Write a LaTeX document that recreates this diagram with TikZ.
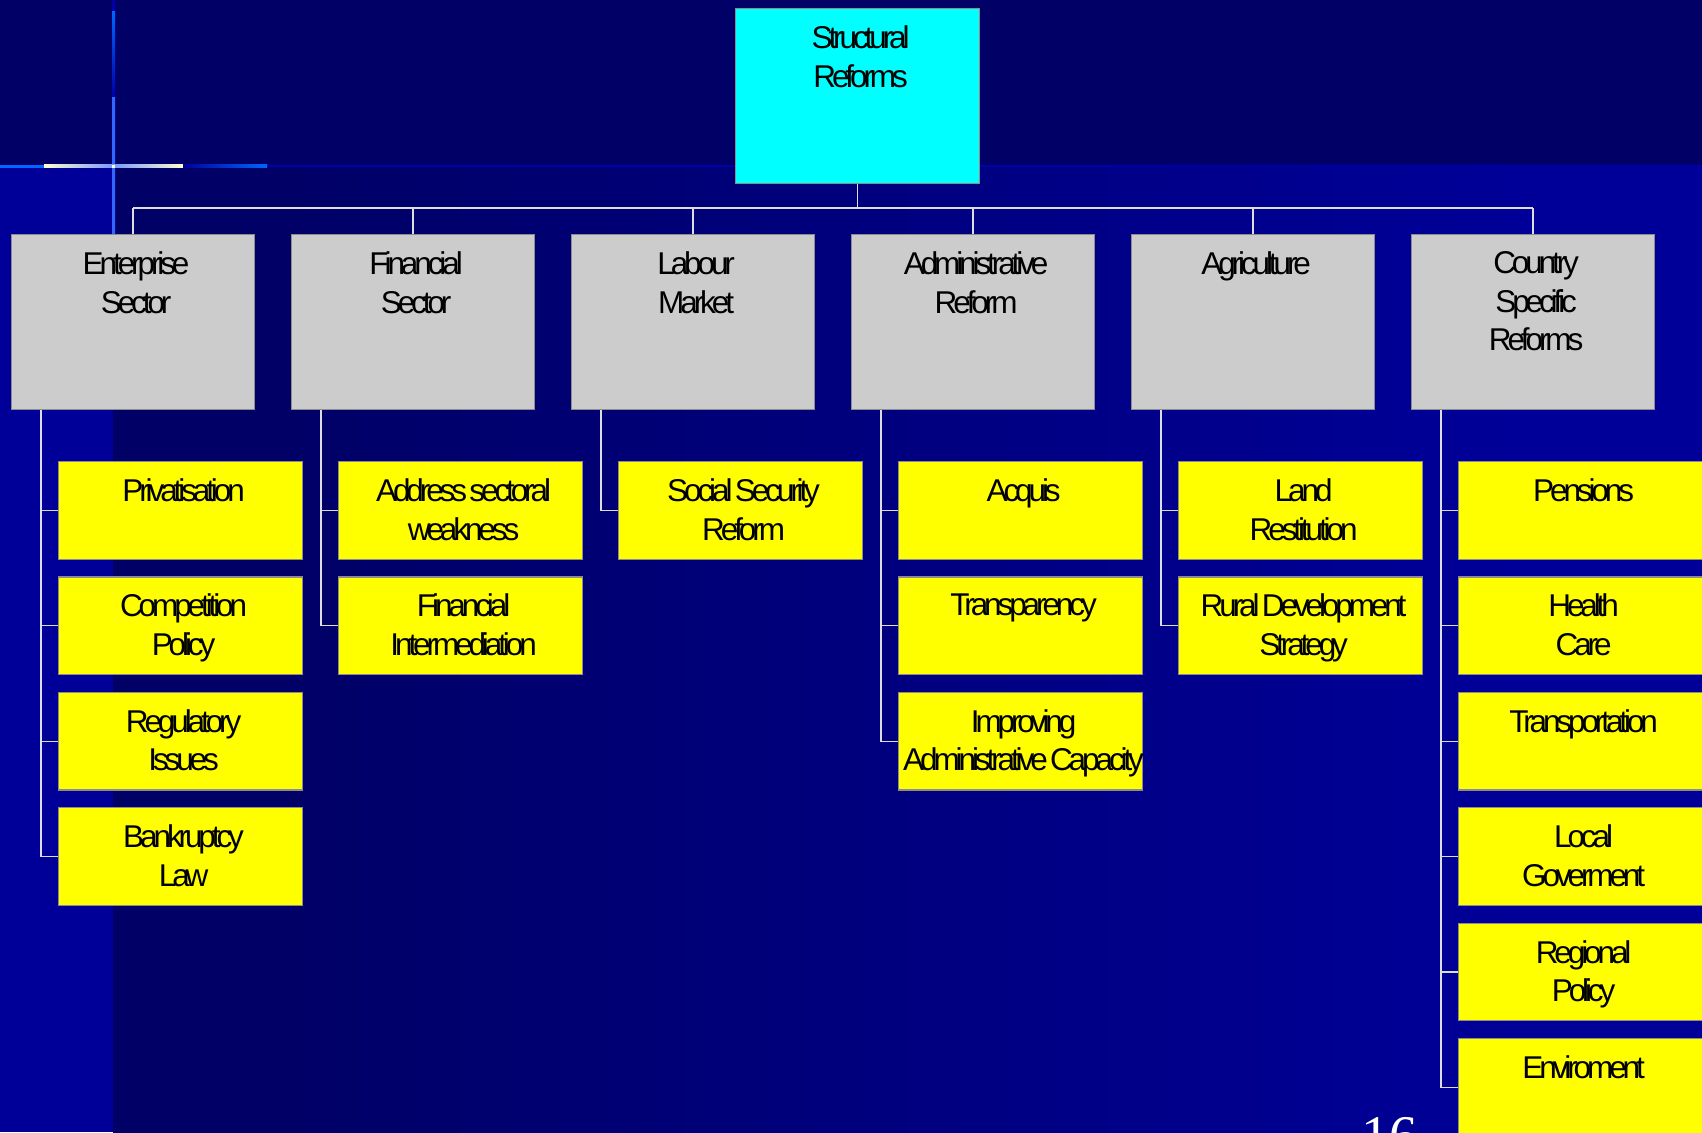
\documentclass[tikz,border=0pt]{standalone}
\usepackage{fontspec}
\setmainfont{Liberation Sans}
\newfontfamily\boxfont[LetterSpace=-13, WordSpace=0.5]{Liberation Sans}
\newfontfamily\pagefont{Liberation Serif}

\definecolor{bgdark}{HTML}{000066}
\definecolor{bgbright}{HTML}{000099}
\definecolor{rulehi}{HTML}{0066FF}
\definecolor{rulemid}{HTML}{3366FF}
\definecolor{rulepale}{HTML}{7799FF}
\definecolor{rulecream}{HTML}{FFFFCC}
\definecolor{ruledim}{HTML}{0000AA}
\definecolor{topcyan}{HTML}{00FFFF}
\definecolor{catgray}{HTML}{CCCCCC}
\definecolor{itemyellow}{HTML}{FFFF00}
\definecolor{edgegray}{HTML}{8C8C8C}
\definecolor{wire}{HTML}{DDDDDD}

\pgfdeclarehorizontalshading{bgsweep}{100bp}{color(0bp)=(bgdark); color(30bp)=(bgdark); color(70bp)=(bgbright); color(100bp)=(bgbright)}

\tikzset{
  cell/.style={draw=edgegray, line width=1.2pt, inner sep=0pt, anchor=north west},
  rootcell/.style={cell, fill=topcyan, minimum width=244pt, minimum height=175pt},
  catcell/.style={cell, fill=catgray, minimum width=243pt, minimum height=175pt},
  itemcell/.style={cell, fill=itemyellow, minimum width=244pt, minimum height=97.5pt},
  celltext/.style={anchor=north, align=center, inner sep=0pt, text=black, xshift=3pt,
    font=\boxfont\fontsize{31.5}{38.5}\selectfont},
  link/.style={draw=wire, line width=1.3pt},
}

\begin{document}
\begin{tikzpicture}[x=1pt, y=-1pt]
\useasboundingbox (0,0) rectangle (1702,1132);
\clip (0,0) rectangle (1702,1132);

% backdrop
\fill[bgdark] (0,0) rectangle (1702,1132);
\shade[shading=bgsweep] (113,166) rectangle (1702,1132);
\fill[bgbright] (0,166) rectangle (113,1132);

% cross-hair ornament
\fill[ruledim] (112,0) rectangle (115,12);
\shade[top color=rulehi, bottom color=ruledim] (112,12) rectangle (115,96);
\shade[top color=rulemid, middle color=rulecream, bottom color=rulemid] (112,97) rectangle (115,236);
\fill[ruledim] (267,165) rectangle (1702,167);
\fill[rulehi] (0,164.5) rectangle (44,167.5);
\shade[left color=rulecream, right color=rulepale] (44,164.5) rectangle (113,167.5);
\shade[left color=rulepale, right color=rulecream] (113,164.5) rectangle (183,167.5);
\shade[left color=bgbright, right color=rulehi] (183,164.5) rectangle (267,167.5);
\fill[rulecream] (112,164.5) rectangle (115,167.5);

% top of the hierarchy
\node[rootcell] (root) at (735,8) {};
\node[celltext] (root-t) at ([yshift=-17.5pt]root.north) {Structural\\Reforms};

% reform areas
\node[catcell] (ent) at (11,234) {};
\node[catcell] (fin) at (291,234) {};
\node[catcell] (lab) at (571,234) {};
\node[catcell] (adm) at (851,234) {};
\node[catcell] (agr) at (1131,234) {};
\node[catcell] (csr) at (1411,234) {};
\node[celltext] (ent-t) at ([yshift=-17.5pt]ent.north) {Enterprise\\Sector};
\node[celltext] (fin-t) at ([yshift=-17.5pt]fin.north) {Financial\\Sector};
\node[celltext] (lab-t) at ([yshift=-17.5pt]lab.north) {Labour\\Market};
\node[celltext] (adm-t) at ([yshift=-17.5pt]adm.north) {Administrative\\Reform};
\node[celltext] (agr-t) at ([yshift=-17.5pt]agr.north) {Agriculture};
\node[celltext] (csr-t) at ([yshift=-17.5pt]csr.north) {Country\\Specific\\Reforms};

% measures: enterprise sector
\node[itemcell] (ent1) at (58,461) {};
\node[itemcell] (ent2) at (58,576.4) {};
\node[itemcell] (ent3) at (58,691.8) {};
\node[itemcell] (ent4) at (58,807.2) {};
\node[celltext] (ent1-t) at ([yshift=-17.5pt]ent1.north) {Privatisation};
\node[celltext] (ent2-t) at ([yshift=-17.5pt]ent2.north) {Competition\\Policy};
\node[celltext] (ent3-t) at ([yshift=-17.5pt]ent3.north) {Regulatory\\Issues};
\node[celltext] (ent4-t) at ([yshift=-17.5pt]ent4.north) {Bankruptcy\\Law};

% measures: financial sector
\node[itemcell] (fin1) at (338,461) {};
\node[itemcell] (fin2) at (338,576.4) {};
\node[celltext] (fin1-t) at ([yshift=-17.5pt]fin1.north) {Address sectoral\\weakness};
\node[celltext] (fin2-t) at ([yshift=-17.5pt]fin2.north) {Financial\\Intermediation};

% measures: labour market
\node[itemcell] (lab1) at (618,461) {};
\node[celltext] (lab1-t) at ([yshift=-17.5pt]lab1.north) {Social Security\\Reform};

% measures: administrative reform
\node[itemcell] (adm1) at (898,461) {};
\node[itemcell] (adm2) at (898,576.4) {};
\node[itemcell] (adm3) at (898,691.8) {};
\node[celltext] (adm1-t) at ([yshift=-17.5pt]adm1.north) {Acquis};
\node[celltext] (adm2-t) at ([yshift=-17.5pt]adm2.north) {Transparency};
\node[celltext] (adm3-t) at ([yshift=-17.5pt]adm3.north) {Improving\\Administrative Capacity};

% measures: agriculture
\node[itemcell] (agr1) at (1178,461) {};
\node[itemcell] (agr2) at (1178,576.4) {};
\node[celltext] (agr1-t) at ([yshift=-17.5pt]agr1.north) {Land\\Restitution};
\node[celltext] (agr2-t) at ([yshift=-17.5pt]agr2.north) {Rural Development\\Strategy};

% measures: country specific reforms
\node[itemcell] (csr1) at (1458,461) {};
\node[itemcell] (csr2) at (1458,576.4) {};
\node[itemcell] (csr3) at (1458,691.8) {};
\node[itemcell] (csr4) at (1458,807.2) {};
\node[itemcell] (csr5) at (1458,922.6) {};
\node[itemcell] (csr6) at (1458,1038) {};
\node[celltext] (csr1-t) at ([yshift=-17.5pt]csr1.north) {Pensions};
\node[celltext] (csr2-t) at ([yshift=-17.5pt]csr2.north) {Health\\Care};
\node[celltext] (csr3-t) at ([yshift=-17.5pt]csr3.north) {Transportation};
\node[celltext] (csr4-t) at ([yshift=-17.5pt]csr4.north) {Local\\Goverment};
\node[celltext] (csr5-t) at ([yshift=-17.5pt]csr5.north) {Regional\\Policy};
\node[celltext] (csr6-t) at ([yshift=-17.5pt]csr6.north) {Enviroment};

% connectors: root to reform areas
\coordinate (bus) at (0,208);
\draw[link] (root.south) -- (root.south |- bus);
\draw[link] (ent.north |- bus) -- (csr.north |- bus);
\foreach \c in {ent,fin,lab,adm,agr,csr}
  \draw[link] (\c.north) -- (\c.north |- bus);

% connectors: reform areas to measures
\foreach \c/\n in {ent/4,fin/2,lab/1,adm/3,agr/2,csr/6}
  \foreach \k in {1,...,\n}
    \draw[link] ([xshift=30pt]\c.south west) |- (\c\k.west);

% slide number, running off the lower edge
\node[anchor=north west, inner sep=0pt, text=white,
  font=\pagefont\fontsize{56}{56}\selectfont] (pageno) at (1361,1117) {16};
\end{tikzpicture}
\end{document}
